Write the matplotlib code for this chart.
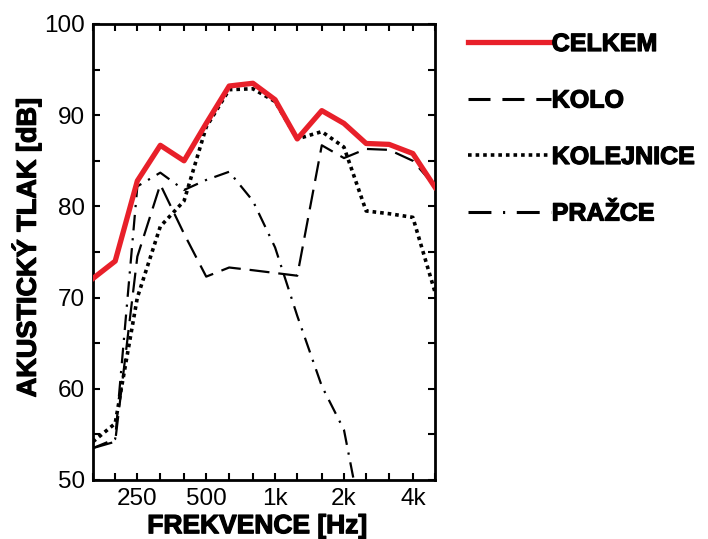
import numpy as np
import matplotlib
matplotlib.use("Agg")
import matplotlib.pyplot as plt
import matplotlib.patheffects as pe
from matplotlib.lines import Line2D
from matplotlib.ticker import FixedLocator, NullFormatter

plt.rcParams['font.family'] = ['Liberation Sans', 'DejaVu Sans']

# tretinooktavova pasma [Hz]
f = np.array([160, 200, 250, 315, 400, 500, 630, 800, 1000, 1250,
              1600, 2000, 2500, 3150, 4000, 5000])

celkem = np.array([72.1, 74.0, 82.8, 86.7, 85.0, 89.1, 93.2, 93.5, 91.7, 87.4,
                   90.5, 89.1, 86.9, 86.8, 85.8, 82.1])
kolo = np.array([53.5, 54.2, 74.5, 82.4, 77.0, 72.3, 73.3, 73.0, 72.7, 72.4,
                 86.7, 85.3, 86.3, 86.2, 85.0, 82.2])
kolejnice = np.array([54.2, 56.2, 70.0, 77.8, 80.6, 88.7, 92.8, 92.9, 91.5, 87.4,
                      88.2, 86.5, 79.5, 79.2, 78.8, 70.6])
prazce = np.array([53.5, 54.5, 82.2, 83.7, 81.8, 82.9, 83.8, 80.6, 75.5, 68.0,
                   60.3, 55.5, 43.0, 40.0, 40.0, 40.0])

major_f = [250, 500, 1000, 2000, 4000]
major_lab = ['250', '500', '1k', '2k', '4k']
nazvy = ['CELKEM', 'KOLO', 'KOLEJNICE', 'PRAŽCE']

red = '#e8202a'
heavy = [pe.withStroke(linewidth=0.9, foreground='black')]

fig = plt.figure(figsize=(7.08, 5.39), dpi=100)
ax = fig.add_axes([93/708, 59/539, 342/708, 456/539])

ax.plot(f, celkem, color=red, lw=3.8, zorder=5)
ax.plot(f, kolo, color='black', lw=1.6, dashes=(9, 4))
ax.plot(f, kolejnice, color='black', lw=2.6, dashes=(1, 1.1))
ax.plot(f, prazce, color='black', lw=1.6, dashes=(7, 3.5, 1, 3.5))

ax.set_xscale('log')
ax.set_xlim(160, 5000)
ax.set_ylim(50, 100)
ax.xaxis.set_major_locator(FixedLocator(major_f))
ax.set_xticklabels(major_lab)
ax.xaxis.set_minor_locator(FixedLocator([x for x in f if x not in major_f]))
ax.xaxis.set_minor_formatter(NullFormatter())
ax.set_yticks(np.arange(50, 101, 10))
ax.set_yticks(np.arange(55, 100, 10), minor=True)

ax.tick_params(which='both', direction='in', top=True, right=True,
               length=5, width=1.5, labelsize=17.5, pad=6)
for s in ax.spines.values():
    s.set_linewidth(2)

xl = ax.set_xlabel('FREKVENCE [Hz]', fontsize=19, fontweight='bold')
yl = ax.set_ylabel('AKUSTICKÝ TLAK [dB]', fontsize=19.5, fontweight='bold')
ax.xaxis.set_label_coords(0.48, -0.075)
ax.yaxis.set_label_coords(-0.15, 0.51)
xl.set_path_effects(heavy)
yl.set_path_effects(heavy)

# legenda s vlastnimi vzory car
handles = [
    Line2D([], [], color=red, lw=3.8),
    Line2D([], [], color='black', lw=2.2, dashes=(7.2, 3.9)),
    Line2D([], [], color='black', lw=2.6, dashes=(1, 1.1)),
    Line2D([], [], color='black', lw=2.2, dashes=(7.5, 3.8, 0.7, 3.8)),
]
leg = fig.legend(handles, nazvy, loc='upper left',
                 bbox_to_anchor=(468/708, 1 - 32/539), frameon=False,
                 prop={'weight': 'bold', 'size': 18}, handlelength=3.3,
                 handletextpad=0.05, labelspacing=1.3, borderpad=0, borderaxespad=0)
for t in leg.get_texts():
    t.set_path_effects(heavy)

fig.savefig('out.png', dpi=100)
